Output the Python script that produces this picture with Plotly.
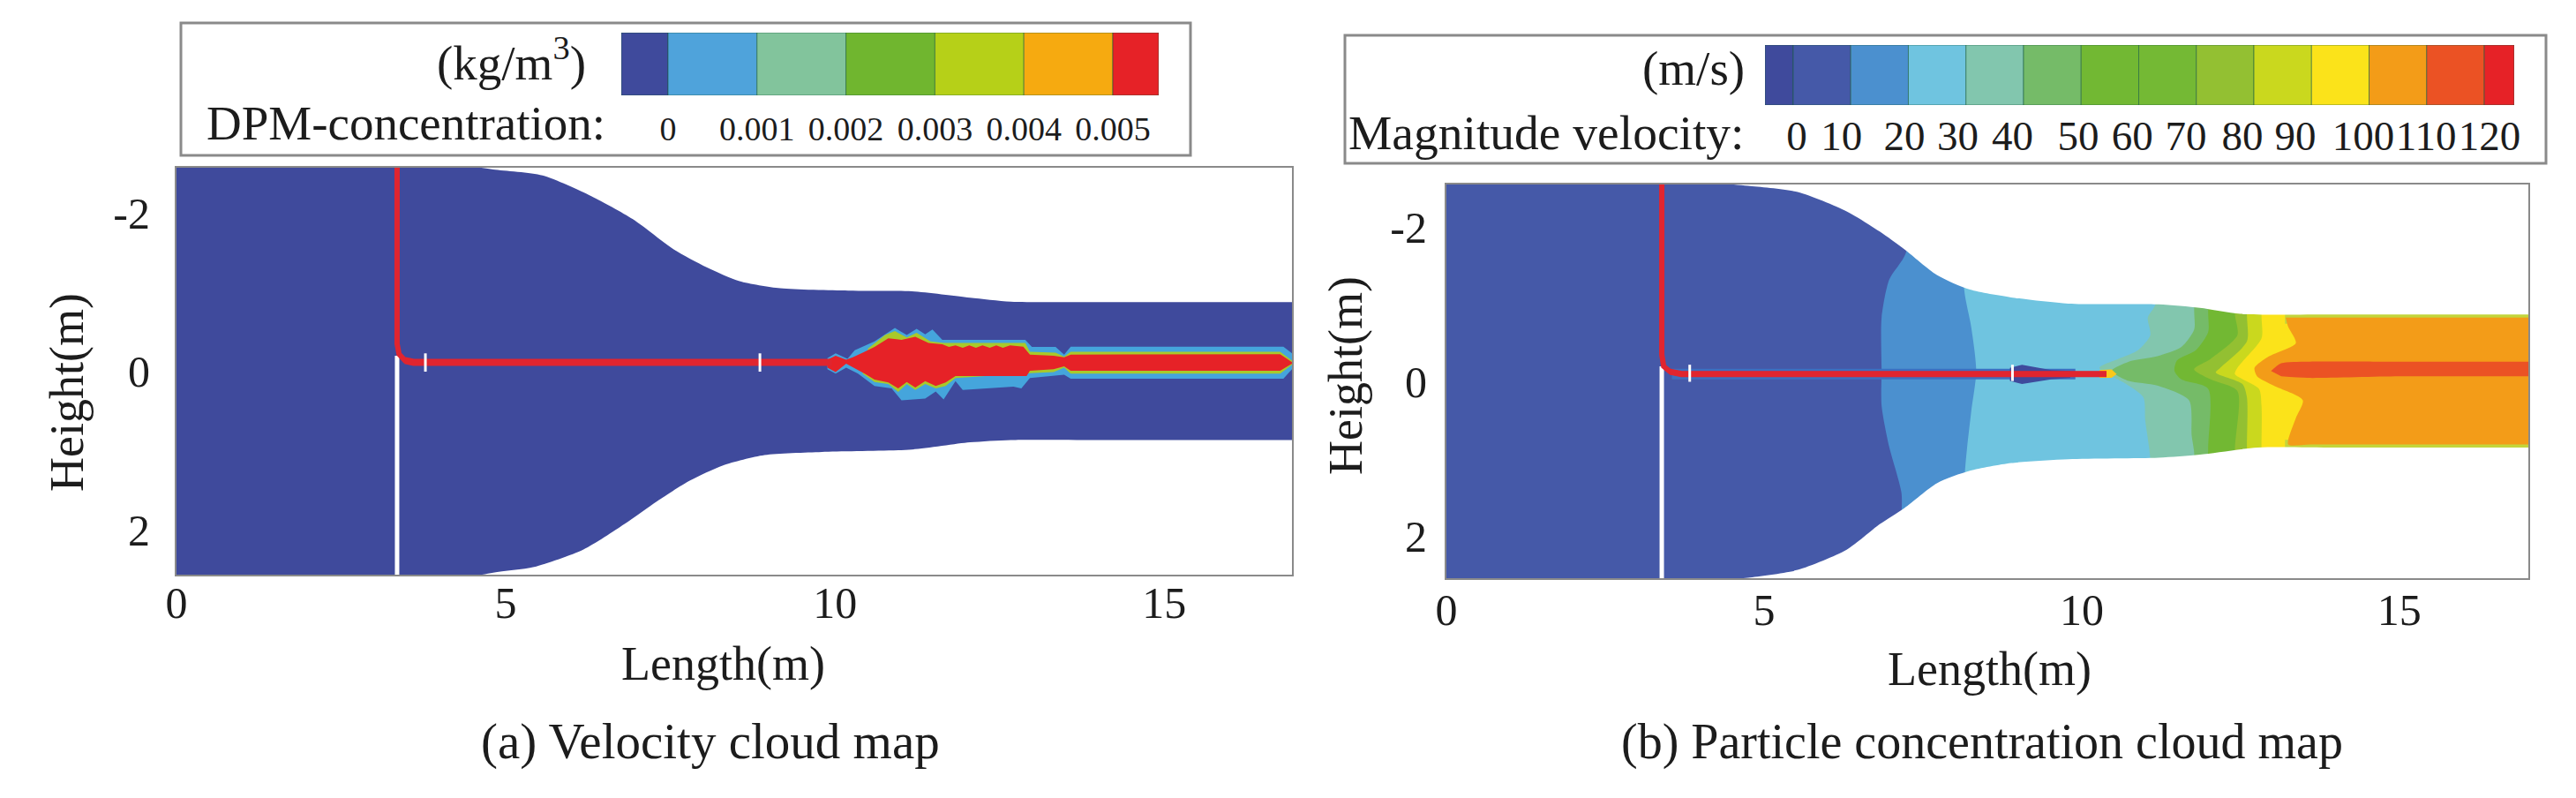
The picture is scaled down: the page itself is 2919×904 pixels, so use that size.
import numpy as np
import plotly.graph_objects as go

# --- left panel: duct walls and jet (metres) ---
wall_l_top_x = [-3, -1, 0, 4.3, 4.81, 5.56, 6.30, 6.93, 7.55, 8.05, 8.55, 9.17, 10.2, 11.17, 12.05, 12.67, 14, 17, 19, 21]
wall_l_top_y = [-2.62, -2.62, -2.62, -2.6, -2.545, -2.47, -2.21, -1.92, -1.54, -1.315, -1.14, -1.05, -1.02, -1.01, -0.93, -0.88, -0.875, -0.875, -0.875, -0.875]
wall_l_bot_x = [-3, -1, 0, 4.3, 4.81, 5.43, 6.18, 6.80, 7.30, 7.80, 8.30, 8.93, 9.80, 11.17, 12.05, 12.67, 14, 17, 19, 21]
wall_l_bot_y = [2.62, 2.62, 2.62, 2.6, 2.53, 2.46, 2.24, 1.92, 1.63, 1.37, 1.18, 1.05, 1.01, 0.98, 0.89, 0.86, 0.86, 0.86, 0.86, 0.86]

jet_cyan_x = [9.885, 10.01, 10.19, 10.30, 10.60, 10.91, 11.09, 11.24, 11.37, 11.48, 11.63, 12.89, 12.99, 13.35, 13.48, 13.58, 16.81, 16.94,
              16.94, 16.81, 13.58, 13.48, 12.96, 12.83, 12.71, 11.94, 11.83, 11.65, 11.53, 11.37, 11.01, 10.86, 10.60, 10.35, 10.17, 10.01, 9.885]
jet_cyan_y = [-0.17, -0.23, -0.16, -0.27, -0.38, -0.55, -0.46, -0.54, -0.47, -0.53, -0.40, -0.40, -0.31, -0.31, -0.215, -0.315, -0.315, -0.23,
              -0.03, 0.09, 0.09, 0.04, 0.08, 0.21, 0.19, 0.23, 0.12, 0.35, 0.25, 0.34, 0.36, 0.21, 0.18, 0.025, -0.05, 0.025, -0.03]
jet_green_x = [10.50, 10.76, 10.91, 11.09, 11.24, 11.45, 11.65, 12.89, 12.96, 13.35, 13.48, 13.58, 16.76, 16.94,
               16.94, 16.76, 13.58, 13.48, 13.32, 12.96, 11.83, 11.68, 11.53, 11.37, 11.22, 11.09, 10.96, 10.81, 10.60, 10.42]
jet_green_y = [-0.29, -0.46, -0.51, -0.43, -0.49, -0.38, -0.36, -0.36, -0.25, -0.24, -0.19, -0.25, -0.25, -0.14,
               -0.086, 0.025, 0.025, -0.05, 0.007, 0.02, 0.08, 0.18, 0.21, 0.155, 0.23, 0.155, 0.255, 0.155, 0.13, 0.025]
jet_red_x = [9.885, 10.01, 10.17, 10.27, 10.45, 10.60, 10.81, 11.01, 11.22, 11.42, 11.63, 11.73, 11.83, 11.94, 12.04, 12.14, 12.24, 12.35, 12.45, 12.55, 12.66, 12.86, 12.96, 13.32, 13.48, 13.58, 16.76, 16.94,
             16.94, 16.76, 13.58, 13.48, 13.32, 12.96, 12.91, 11.83, 11.68, 11.53, 11.37, 11.22, 11.09, 10.96, 10.81, 10.60, 10.45, 10.27, 10.17, 10.01, 9.885]
jet_red_y = [-0.15, -0.20, -0.15, -0.18, -0.25, -0.31, -0.42, -0.40, -0.44, -0.36, -0.345, -0.31, -0.33, -0.30, -0.33, -0.30, -0.33, -0.30, -0.33, -0.30, -0.33, -0.315, -0.215, -0.20, -0.18, -0.215, -0.22, -0.12,
             -0.10, -0.01, -0.01, -0.067, -0.03, -0.01, 0.055, 0.055, 0.136, 0.18, 0.12, 0.20, 0.13, 0.21, 0.136, 0.10, 0.025, -0.05, -0.10, 0.007, -0.05]

pipe_l_x = [3.35, 3.35, 3.38, 3.47, 3.6, 9.95]
pipe_l_y = [-2.62, -0.35, -0.22, -0.14, -0.118, -0.118]
rod_l_x = [3.35, 3.35]
rod_l_y = [-0.2, 2.62]
marks_l_x = [3.78, 3.78, None, 8.86, 8.86]
marks_l_y = [-0.23, 0, None, -0.23, 0]

# --- right panel: duct walls and velocity bands ---
wall_r_top_x = [-3, -1, 4.3, 4.75, 5.53, 6.30, 6.82, 7.21, 7.72, 8.24, 8.89, 9.79, 11.21, 11.86, 12.50, 14, 17, 19, 21]
wall_r_top_y = [-2.56, -2.56, -2.56, -2.53, -2.45, -2.20, -1.94, -1.71, -1.38, -1.19, -1.09, -1.01, -1.00, -0.955, -0.877, -0.87, -0.87, -0.87, -0.87]
wall_r_bot_x = [-3, -1, 4.3, 4.75, 5.53, 6.30, 6.82, 7.21, 7.72, 8.24, 8.89, 9.79, 11.21, 11.86, 12.77, 14, 17, 19, 21]
wall_r_bot_y = [2.56, 2.56, 2.56, 2.53, 2.43, 2.17, 1.84, 1.63, 1.31, 1.15, 1.05, 1.00, 0.98, 0.94, 0.85, 0.85, 0.85, 0.85, 0.85]

band_20_x = [7.35, 7.23, 6.97, 6.85, 6.85, 6.85, 6.97, 7.16, 7.30]
band_20_y = [-2.6, -1.66, -1.32, -0.83, -0.14, 0.31, 0.84, 1.42, 2.6]
band_30_x = [8.15, 8.15, 8.26, 8.34, 8.26, 8.16, 8.16]
band_30_y = [-2.6, -1.19, -0.71, -0.14, 0.39, 1.19, 2.6]
band_40_x = [11.16, 11.16, 11.04, 11.08, 10.89, 10.58, 10.28, 10.66, 10.97, 11.00, 11.08, 11.08]
band_40_y = [-2.6, -1.00, -0.83, -0.60, -0.41, -0.295, -0.18, 0.01, 0.20, 0.50, 1.00, 2.6]
band_50_x = [11.77, 11.77, 11.77, 11.57, 11.19, 10.74, 10.47, 10.74, 11.19, 11.69, 11.73, 11.77, 11.77]
band_50_y = [-2.6, -0.92, -0.675, -0.45, -0.33, -0.26, -0.14, -0.01, 0.05, 0.24, 0.69, 0.92, 2.6]
band_60_x = [11.99, 11.99, 11.99, 11.80, 11.50, 11.46, 11.57, 11.99, 11.99, 11.99]
band_60_y = [-2.6, -0.90, -0.64, -0.41, -0.275, -0.14, -0.03, 0.09, 0.88, 2.6]
band_80_x = [12.41, 12.41, 12.45, 12.03, 11.77, 12.03, 12.45, 12.41, 12.41]
band_80_y = [-2.6, -0.88, -0.60, -0.295, -0.16, -0.03, 0.12, 0.88, 2.6]
band_90_x = [12.60, 12.60, 12.60, 12.18, 12.11, 12.53, 12.60, 12.60, 12.60]
band_90_y = [-2.6, -0.865, -0.52, -0.18, -0.12, 0.03, 0.20, 0.85, 2.6]
band_100_x = [12.83, 12.83, 12.83, 12.45, 12.41, 12.79, 12.83, 12.83, 12.83]
band_100_y = [-2.6, -0.85, -0.56, -0.18, -0.10, 0.09, 0.31, 0.85, 2.6]
edge_x = [13.2, 18, 18, 13.2, 13.2, None, 13.2, 18, 18, 13.2, 13.2]
edge_y = [-0.95, -0.95, -0.75, -0.75, -0.95, None, 0.75, 0.75, 0.95, 0.95, 0.75]
band_110_x = [13.21, 13.25, 13.37, 12.95, 12.72, 12.76, 13.02, 13.48, 13.37, 13.25, 13.6, 17, 19, 21, 21, 19, 17, 13.6]
band_110_y = [-0.83, -0.71, -0.50, -0.33, -0.18, -0.07, 0.05, 0.24, 0.47, 0.81, 0.81, 0.81, 0.81, 0.81, -0.83, -0.83, -0.83, -0.83]
core_x = [12.98, 13.14, 13.56, 15, 17, 19, 21, 21, 19, 17, 15, 13.56, 13.14]
core_y = [-0.14, -0.24, -0.26, -0.26, -0.26, -0.26, -0.26, -0.07, -0.07, -0.07, -0.07, -0.05, -0.07]
wake_x = [8.87, 9.06, 9.52, 9.82, 9.82, 9.52, 9.06, 8.87]
wake_y = [-0.18, -0.22, -0.15, -0.14, -0.05, -0.03, 0.03, -0.01]
tip_x = [10.28, 10.47, 10.55, 10.47, 10.28]
tip_y = [-0.15, -0.16, -0.10, -0.05, -0.05]

pipe_r_x = [3.39, 3.39, 3.42, 3.52, 3.7, 10.39]
pipe_r_y = [-2.6, -0.35, -0.2, -0.13, -0.10, -0.10]
rod_r_x = [3.39, 3.39]
rod_r_y = [-0.2, 2.6]
marks_r_x = [3.83, 3.83, None, 8.91, 8.91]
marks_r_y = [-0.22, 0, None, -0.22, -0.01]
sleeve_x = [3.55, 9.9]
sleeve_y = [-0.10, -0.10]

# --- colour scales ---
conc_edges = [-0.000526, 0, 0.001, 0.002, 0.003, 0.004, 0.005, 0.005516]
conc_colors = ["#3F4A9C", "#4FA3DB", "#82C49C", "#70B62F", "#B6D018", "#F6AA10", "#E62227"]
conc_ticks = [0, 0.001, 0.002, 0.003, 0.004, 0.005]
conc_labels = ["0", "0.001", "0.002", "0.003", "0.004", "0.005"]

vel_edges = [-4.9, 0, 10, 20, 30, 40, 50, 60, 70, 80, 90, 100, 110, 120, 125.2]
vel_colors = ["#3F4A9C", "#4559A8", "#4B90CF", "#6FC4E0", "#82C6AE", "#75BB68", "#72B833",
              "#74B934", "#93C032", "#CAD81E", "#FBE31A", "#F39C18", "#EB5224", "#E62227"]
vel_tick_pos = [0.6, 8.4, 19.3, 28.6, 38.1, 49.5, 58.9, 68.2, 78.0, 87.2, 99, 109.9, 120.9]
vel_labels = ["0", "10", "20", "30", "40", "50", "60", "70", "80", "90", "100", "110", "120"]

# the page keeps its 8px body margin, so the figure is that much smaller
PAGE_W, PAGE_H, BODY = 2919, 904, 8
W, H = PAGE_W - 2 * BODY, PAGE_H - 2 * BODY
SERIF = "Liberation Serif"
INK = "#1c1c1c"
GRAY = "#8a8a8a"
NAVY = "#3F4A9C"


def fx(px):
    return (px - BODY) / W


def fy(px):
    return 1 - (px - BODY) / H


fig = go.Figure()


def region(xs, ys, color, ax="", smooth=False):
    line = dict(width=0, shape="spline", smoothing=0.7) if smooth else dict(width=0)
    fig.add_trace(go.Scatter(x=xs, y=ys, mode="lines", fill="toself", fillcolor=color,
                             line=line, hoverinfo="skip", xaxis="x" + ax, yaxis="y" + ax))


def stroke(xs, ys, color, width, ax=""):
    fig.add_trace(go.Scatter(x=xs, y=ys, mode="lines", line=dict(color=color, width=width),
                             hoverinfo="skip", xaxis="x" + ax, yaxis="y" + ax))


def band(xs, ys, color):
    # everything to the right of the curve, walls get masked afterwards
    region(xs + [18, 18], ys + [2.6, -2.6], color, "2", smooth=True)


def scale_bar(edges, colors, ax):
    fig.add_trace(go.Bar(y=[0] * len(colors), x=np.diff(edges), base=edges[:-1], orientation="h", width=1,
                         marker=dict(color=colors, line=dict(color="rgba(20,90,60,0.55)", width=1)),
                         hoverinfo="skip", xaxis="x" + ax, yaxis="y" + ax))


# left panel
region(wall_l_top_x + wall_l_bot_x[::-1], wall_l_top_y + wall_l_bot_y[::-1], NAVY, smooth=True)
region(jet_cyan_x, jet_cyan_y, "#45A5DC")
region(jet_green_x, jet_green_y, "#A9C92A")
region(jet_red_x, jet_red_y, "#E62227")
stroke(rod_l_x, rod_l_y, "#ffffff", 5)
stroke(pipe_l_x, pipe_l_y, "#E0252F", 6)
stroke(pipe_l_x[3:], pipe_l_y[3:], "#E0252F", 8)
stroke(marks_l_x, marks_l_y, "#ffffff", 3)

# right panel
region([0, 18, 18, 0], [-2.6, -2.6, 2.6, 2.6], "#4559A8", "2")
band(band_20_x, band_20_y, "#4B90CF")
band(band_30_x, band_30_y, "#6FC4E0")
band(band_40_x, band_40_y, "#82C6AE")
band(band_50_x, band_50_y, "#75BB68")
band(band_60_x, band_60_y, "#72B833")
band(band_80_x, band_80_y, "#93C032")
band(band_90_x, band_90_y, "#CAD81E")
band(band_100_x, band_100_y, "#FBE31A")
region(edge_x, edge_y, "#C3D53B", "2")
region(band_110_x, band_110_y, "#F39C18", "2", smooth=True)
region(core_x, core_y, "#EB5224", "2", smooth=True)
region(wall_r_top_x + [21, -3], wall_r_top_y + [-3.5, -3.5], "#ffffff", "2", smooth=True)
region(wall_r_bot_x + [21, -3], wall_r_bot_y + [3.5, 3.5], "#ffffff", "2", smooth=True)
stroke(sleeve_x, sleeve_y, "#3E6FBF", 12, "2")
region(wake_x, wake_y, NAVY, "2")
region(tip_x, tip_y, "#FBC81A", "2")
stroke(rod_r_x, rod_r_y, "#ffffff", 5, "2")
stroke(pipe_r_x, pipe_r_y, "#E0252F", 6, "2")
stroke(pipe_r_x[3:], pipe_r_y[3:], "#E0252F", 7, "2")
stroke(marks_r_x, marks_r_y, "#ffffff", 3, "2")

# colour scales
scale_bar(conc_edges, conc_colors, "3")
scale_bar(vel_edges, vel_colors, "4")


def plot_axes(x_dom, y_dom, x_range, y_range, x_gap, y_gap):
    tick = dict(family=SERIF, size=50, color=INK)
    xa = dict(domain=[fx(x_dom[0]), fx(x_dom[1])], range=x_range, tickvals=[0, 5, 10, 15], automargin=False,
              tickfont=tick, ticks="", showgrid=False, zeroline=False, showline=True, mirror=True,
              linecolor=GRAY, linewidth=2, ticklabelstandoff=x_gap)
    ya = dict(domain=[fy(y_dom[1]), fy(y_dom[0])], range=y_range, tickmode="array", tickvals=[-2, 0, 2],
              ticktext=["-2", "0", "2"], tickfont=tick, ticks="", showgrid=False, zeroline=False, automargin=False,
              showline=True, mirror=True, linecolor=GRAY, linewidth=2, ticklabelstandoff=y_gap)
    return xa, ya


def scale_axes(x_dom, y_dom, x_range, tickvals, ticktext, size, gap):
    xa = dict(domain=[fx(x_dom[0]), fx(x_dom[1])], range=x_range, tickmode="array", tickvals=tickvals,
              ticktext=ticktext, tickangle=0, ticks="", showgrid=False, zeroline=False, showline=False, automargin=False,
              tickfont=dict(family=SERIF, size=size, color=INK), ticklabelstandoff=gap)
    ya = dict(domain=[fy(y_dom[1]), fy(y_dom[0])], range=[-0.5, 0.5], visible=False)
    return xa, ya


x1, y1 = plot_axes((200, 1464), (190, 651), [0, 16.94], [2.556, -2.567], -13, 18)
x2, y2 = plot_axes((1639, 2865), (209, 655), [0, 17.03], [2.537, -2.548], -9, 10)
x3, y3 = scale_axes((704, 1313), (37, 108), [conc_edges[0], conc_edges[-1]], conc_ticks, conc_labels, 38, 12)
x4, y4 = scale_axes((2000, 2849), (51, 119), [vel_edges[0], vel_edges[-1]], vel_tick_pos, vel_labels, 47, 3)
y2["anchor"] = "x2"
x2["anchor"] = "y2"
y3["anchor"] = "x3"
x3["anchor"] = "y3"
y4["anchor"] = "x4"
x4["anchor"] = "y4"


def note(text, px, py, anchor="center", size=55, angle=0):
    return dict(text=text, x=fx(px), y=fy(py), xref="paper", yref="paper", xanchor=anchor, yanchor="middle",
                showarrow=False, textangle=angle, font=dict(family=SERIF, size=size, color=INK))


def box(x0, y0, x1_, y1_):
    return dict(type="rect", xref="paper", yref="paper", x0=fx(x0), x1=fx(x1_), y0=fy(y0), y1=fy(y1_),
                line=dict(color=GRAY, width=3), fillcolor="rgba(0,0,0,0)")


fig.update_layout(
    width=W, height=H, margin=dict(l=0, r=0, t=0, b=0), autosize=False,
    paper_bgcolor="#ffffff", plot_bgcolor="#ffffff", showlegend=False, barmode="overlay",
    xaxis=x1, yaxis=y1, xaxis2=x2, yaxis2=y2, xaxis3=x3, yaxis3=y3, xaxis4=x4, yaxis4=y4,
    shapes=[box(205, 26, 1349, 176), box(1524, 40, 2885, 185)],
    annotations=[
        note("(kg/m<sup>3</sup>)", 666, 68, "right"),
        note("DPM-concentration:", 688, 139, "right", size=55),
        note("(m/s)", 1979, 78, "right"),
        note("Magnitude velocity:", 1979, 150, "right", size=55.5),
        note("Length(m)", 819, 752, size=54),
        note("Length(m)", 2254, 758, size=54),
        note("Height(m)", 76, 445, size=54, angle=-90),
        note("Height(m)", 1525, 426, size=54, angle=-90),
        note("(a) Velocity cloud map", 805, 840, size=57),
        note("(b) Particle concentration cloud map", 2246, 840, size=56),
    ],
)

fig.write_html("out.html")
